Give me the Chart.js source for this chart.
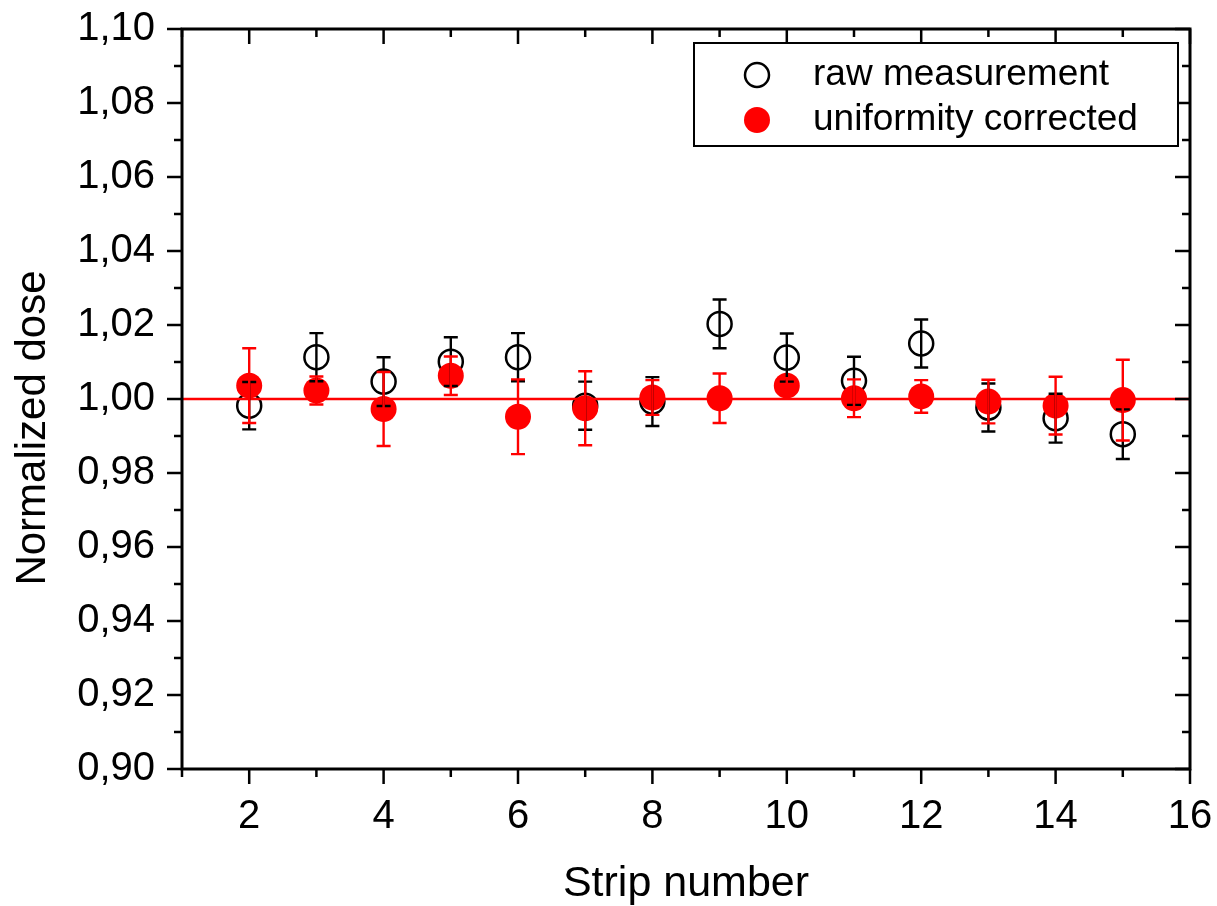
<!DOCTYPE html>
<html>
<head>
<meta charset="utf-8">
<script src="https://cdn.jsdelivr.net/npm/chart.js@4/dist/chart.umd.min.js"></script>
<style>
    html, body { margin: 0; padding: 0; background: #fff; }
    canvas { display: block; }
</style>
</head>
<body>
<canvas id="doseChart" width="1217" height="906"></canvas>
<script>
// Strip dose uniformity - raw vs corrected

const strips = [2, 3, 4, 5, 6, 7, 8, 9, 10, 11, 12, 13, 14, 15];
const rawDose = [0.9982, 1.0113, 1.0047, 1.0101, 1.0113, 0.9982, 0.9993, 1.0203, 1.0112, 1.0049, 1.0150, 0.9977, 0.9948, 0.9905];
const rawErr = [0.0064, 0.0065, 0.0066, 0.0066, 0.0065, 0.0065, 0.0066, 0.0066, 0.0065, 0.0065, 0.0065, 0.0065, 0.0066, 0.0067];
const correctedDose = [1.0036, 1.0023, 0.9973, 1.0063, 0.9952, 0.9975, 1.0004, 1.0002, 1.0036, 1.0002, 1.0007, 0.9993, 0.9982, 0.9997];
const correctedErr = [0.0101, 0.0038, 0.0100, 0.0052, 0.0101, 0.0100, 0.0047, 0.0067, 0.0020, 0.0051, 0.0044, 0.0059, 0.0078, 0.0109];
const refLineX = [1, 16];
const refLineY = [1.0, 1.0];
const xTitle = 'Strip number';
const yTitle = 'Normalized dose';

const FONT = '"Liberation Sans", Arial, sans-serif';
const RED = '#ff0000';

// error bars: drawn from the arrays through the chart scales
const errorBars = {
    id: 'errorBars',
    afterDatasetsDraw(chart) {
        const ctx = chart.ctx;
        const xs = chart.scales.x;
        const ys = chart.scales.y;
        const sets = [
            { y: rawDose, e: rawErr, color: '#000' },
            { y: correctedDose, e: correctedErr, color: RED }
        ];
        ctx.save();
        ctx.lineWidth = 2.4;
        sets.forEach(s => {
            ctx.strokeStyle = s.color;
            strips.forEach((st, i) => {
                const px = xs.getPixelForValue(st);
                const top = ys.getPixelForValue(s.y[i] + s.e[i]);
                const bot = ys.getPixelForValue(s.y[i] - s.e[i]);
                ctx.beginPath();
                ctx.moveTo(px, top);
                ctx.lineTo(px, bot);
                ctx.moveTo(px - 7, top);
                ctx.lineTo(px + 7, top);
                ctx.moveTo(px - 7, bot);
                ctx.lineTo(px + 7, bot);
                ctx.stroke();
            });
        });
        ctx.restore();
    }
};

// frame with major/minor ticks (outward left/bottom, inward top/right) + axis titles
const axisFrame = {
    id: 'axisFrame',
    afterDraw(chart) {
        const ctx = chart.ctx;
        const a = chart.chartArea;
        const xs = chart.scales.x;
        const ys = chart.scales.y;
        ctx.save();
        ctx.strokeStyle = '#000';
        ctx.lineWidth = 2.5;
        ctx.beginPath();
        xs.ticks.forEach(t => {
            const px = xs.getPixelForValue(t.value);
            const len = Math.round(t.value) % 2 === 0 ? 15 : 8;
            ctx.moveTo(px, a.bottom);
            ctx.lineTo(px, a.bottom + len);
            ctx.moveTo(px, a.top);
            ctx.lineTo(px, a.top + len);
        });
        ys.ticks.forEach(t => {
            const py = ys.getPixelForValue(t.value);
            const len = Math.round(t.value * 100) % 2 === 0 ? 15 : 8;
            ctx.moveTo(a.left, py);
            ctx.lineTo(a.left - len, py);
            ctx.moveTo(a.right, py);
            ctx.lineTo(a.right - len, py);
        });
        ctx.stroke();
        ctx.lineWidth = 3;
        ctx.strokeRect(a.left, a.top, a.right - a.left, a.bottom - a.top);

        // titles
        ctx.fillStyle = '#000';
        ctx.textAlign = 'center';
        ctx.textBaseline = 'alphabetic';
        ctx.font = '43px ' + FONT;
        ctx.fillText(xTitle, 686, 896);
        ctx.translate(45, 428);
        ctx.rotate(-Math.PI / 2);
        ctx.font = '42px ' + FONT;
        ctx.fillText(yTitle, 0, 0);
        ctx.restore();
    }
};

// boxed legend in the upper right corner
const boxLegend = {
    id: 'boxLegend',
    afterDraw(chart) {
        const ctx = chart.ctx;
        const items = chart.data.datasets
            .filter(d => d.legendRank)
            .sort((p, q) => p.legendRank - q.legendRank);
        const x0 = 694, y0 = 43, w = 484, h = 103;
        ctx.save();
        ctx.fillStyle = '#fff';
        ctx.fillRect(x0, y0, w, h);
        ctx.strokeStyle = '#000';
        ctx.lineWidth = 2;
        ctx.strokeRect(x0, y0, w, h);
        items.forEach((d, i) => {
            const cy = 75 + i * 45;
            ctx.beginPath();
            ctx.arc(757, cy, d.pointRadius, 0, Math.PI * 2);
            if (d.backgroundColor !== 'transparent') {
                ctx.fillStyle = d.backgroundColor;
                ctx.fill();
            }
            if (d.pointBorderWidth > 0) {
                ctx.lineWidth = d.pointBorderWidth;
                ctx.strokeStyle = d.borderColor;
                ctx.stroke();
            }
            ctx.fillStyle = '#000';
            ctx.font = '37px ' + FONT;
            ctx.textBaseline = 'middle';
            ctx.textAlign = 'left';
            ctx.fillText(d.label, 813, cy);
        });
        ctx.restore();
    }
};

const ctx = document.getElementById('doseChart');

new Chart(ctx, {
    type: 'scatter',
    data: {
        datasets: [
            {
                label: 'reference',
                type: 'line',
                data: refLineX.map((x, i) => ({ x: x, y: refLineY[i] })),
                borderColor: RED,
                borderWidth: 2.5,
                pointRadius: 0,
                fill: false
            },
            {
                label: 'uniformity corrected',
                legendRank: 2,
                data: strips.map((x, i) => ({ x: x, y: correctedDose[i] })),
                pointRadius: 13,
                pointBorderWidth: 0,
                borderColor: RED,
                backgroundColor: RED
            },
            {
                label: 'raw measurement',
                legendRank: 1,
                data: strips.map((x, i) => ({ x: x, y: rawDose[i] })),
                pointRadius: 12,
                pointBorderWidth: 2.5,
                borderColor: '#000',
                backgroundColor: 'transparent'
            }
        ]
    },
    options: {
        responsive: false,
        animation: false,
        layout: {
            padding: { top: 29, right: 27, left: 0, bottom: 0 }
        },
        plugins: {
            legend: { display: false },
            tooltip: { enabled: false }
        },
        scales: {
            x: {
                type: 'linear',
                min: 1,
                max: 16,
                grid: { display: false, drawTicks: false },
                border: { display: false },
                ticks: {
                    stepSize: 1,
                    autoSkip: false,
                    maxRotation: 0,
                    padding: 24,
                    color: '#000',
                    font: { family: FONT, size: 40 },
                    callback: v => (v % 2 === 0 ? String(v) : '')
                },
                afterFit: scale => {
                    scale.height = 137;
                    scale.paddingLeft = 0;
                    scale.paddingRight = 0;
                }
            },
            y: {
                type: 'linear',
                min: 0.9,
                max: 1.1,
                grid: { display: false, drawTicks: false },
                border: { display: false },
                ticks: {
                    stepSize: 0.01,
                    autoSkip: false,
                    padding: 27,
                    color: '#000',
                    font: { family: FONT, size: 40 },
                    callback: v => (Math.round(v * 100) % 2 === 0 ? v.toFixed(2).replace('.', ',') : '')
                },
                afterFit: scale => {
                    scale.width = 182;
                    scale.paddingTop = 0;
                    scale.paddingBottom = 0;
                }
            }
        }
    },
    plugins: [errorBars, axisFrame, boxLegend]
});
</script>
</body>
</html>
